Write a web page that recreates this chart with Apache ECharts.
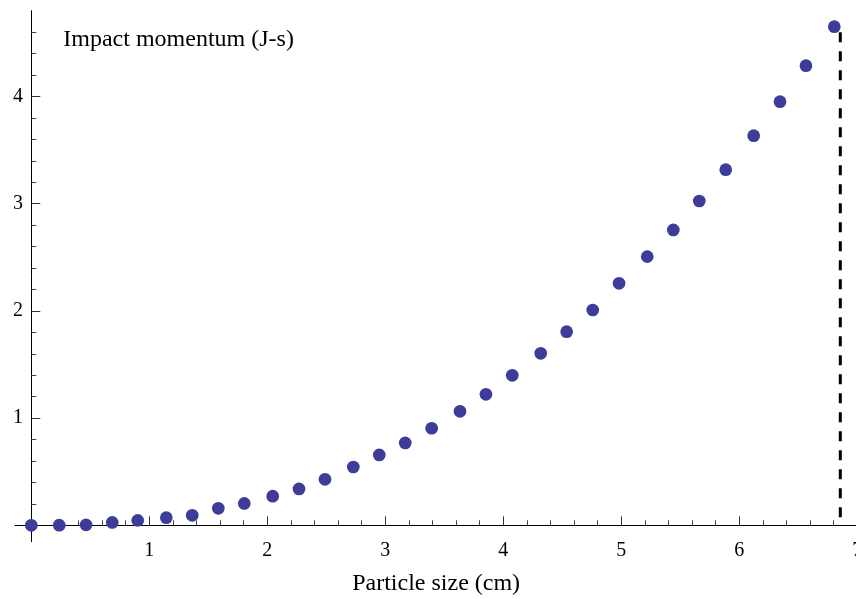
<!DOCTYPE html>
<html>
<head>
<meta charset="utf-8">
<script src="https://cdn.jsdelivr.net/npm/echarts@6/dist/echarts.min.js"></script>
<style>
html,body{margin:0;padding:0;background:#fff;}
#chart{width:856px;height:599px;}
</style>
</head>
<body>
<div id="chart"></div>
<script>
// Particle size (cm)
var sizes = [0, 0.237, 0.464, 0.686, 0.902, 1.144, 1.364, 1.585, 1.805, 2.046,
             2.269, 2.489, 2.729, 2.949, 3.169, 3.393, 3.633, 3.853, 4.076, 4.317,
             4.537, 4.758, 4.981, 5.220, 5.441, 5.661, 5.885, 6.122, 6.345, 6.565, 6.805];
// Impact momentum (J-s)
var momentum = [0, 0.001, 0.004, 0.027, 0.046, 0.071, 0.093, 0.158, 0.204, 0.272,
                0.339, 0.429, 0.544, 0.656, 0.768, 0.905, 1.063, 1.222, 1.399, 1.604,
                1.806, 2.008, 2.257, 2.506, 2.755, 3.025, 3.317, 3.634, 3.951, 4.287, 4.651];
// dashed cutoff line
var cutoffX = 6.856;
var cutoffTop = 4.60;

var xMajor = [1, 2, 3, 4, 5, 6, 7];
var yMajor = [1, 2, 3, 4];
var xMinor = [0.2,0.4,0.6,0.8,1.2,1.4,1.6,1.8,2.2,2.4,2.6,2.8,3.2,3.4,3.6,3.8,4.2,4.4,4.6,4.8,5.2,5.4,5.6,5.8,6.2,6.4,6.6,6.8];
var yMinor = [0.2,0.4,0.6,0.8,1.2,1.4,1.6,1.8,2.2,2.4,2.6,2.8,3.2,3.4,3.6,3.8,4.2,4.4,4.6];

var xRange = [-0.138, 7.0];
var yRange = [-0.153, 4.80];

var font = 'Liberation Serif';
var points = sizes.map(function (s, i) { return [s, momentum[i]]; });

var chart = echarts.init(document.getElementById('chart'), null, {renderer: 'canvas'});
chart.setOption({
  animation: false,
  backgroundColor: '#ffffff',
  grid: {left: 15, top: 10.7, width: 842.3, height: 531, containLabel: false, outerBoundsMode: 'none'},
  xAxis: [{
    type: 'value', min: xRange[0], max: xRange[1], position: 'bottom',
    name: 'Particle size (cm)', nameLocation: 'middle', nameGap: 30,
    nameTextStyle: {fontFamily: font, fontSize: 24, color: '#000'},
    axisLine: {show: true, onZero: true, lineStyle: {color: '#000', width: 1}},
    axisTick: {show: true, inside: true, length: 9, customValues: xMajor, lineStyle: {color: '#333', width: 1}},
    axisLabel: {show: true, customValues: xMajor, margin: -1, fontFamily: font, fontSize: 20, color: '#000'},
    splitLine: {show: false}
  }, {
    type: 'value', min: xRange[0], max: xRange[1], position: 'bottom',
    axisLine: {show: false, onZero: true},
    axisTick: {show: true, inside: true, length: 5, customValues: xMinor, lineStyle: {color: '#444', width: 1}},
    axisLabel: {show: false},
    splitLine: {show: false}
  }],
  yAxis: [{
    type: 'value', min: yRange[0], max: yRange[1], position: 'left',
    name: 'Impact momentum (J-s)', nameLocation: 'end', nameGap: -29,
    nameTextStyle: {fontFamily: font, fontSize: 24, color: '#000', align: 'left', verticalAlign: 'middle', padding: [0, 0, 0, 32]},
    axisLine: {show: true, onZero: true, lineStyle: {color: '#000', width: 1}},
    axisTick: {show: true, inside: true, length: 9, customValues: yMajor, lineStyle: {color: '#333', width: 1}},
    axisLabel: {show: true, customValues: yMajor, margin: -8, fontFamily: font, fontSize: 20, color: '#000'},
    splitLine: {show: false}
  }, {
    type: 'value', min: yRange[0], max: yRange[1], position: 'left',
    axisLine: {show: false, onZero: true},
    axisTick: {show: true, inside: true, length: 5, customValues: yMinor, lineStyle: {color: '#444', width: 1}},
    axisLabel: {show: false},
    splitLine: {show: false}
  }],
  series: [{
    type: 'scatter',
    data: points,
    symbol: 'circle',
    symbolSize: 12.7,
    itemStyle: {color: '#3d3d99', opacity: 1},
    z: 3
  }, {
    type: 'line',
    data: [[cutoffX, cutoffTop], [cutoffX, 0]],
    symbol: 'none',
    lineStyle: {color: '#000', width: 3, type: [10, 9]},
    z: 2
  }]
});
</script>
</body>
</html>
